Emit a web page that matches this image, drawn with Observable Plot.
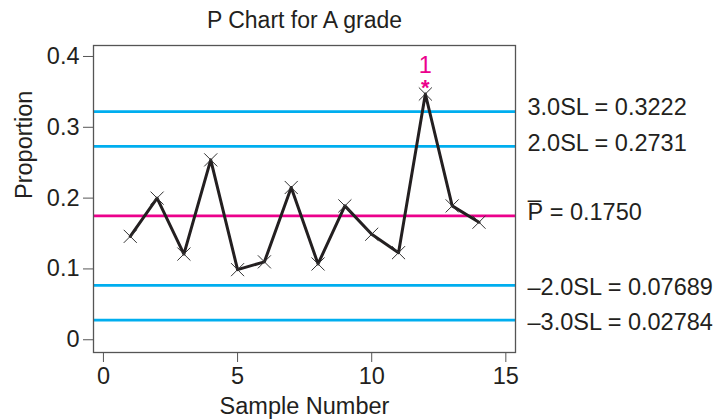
<!DOCTYPE html>
<html>
<head>
<meta charset="utf-8">
<script src="https://cdn.jsdelivr.net/npm/d3@7"></script>
<script src="https://cdn.jsdelivr.net/npm/@observablehq/plot@0.6"></script>
<style>
  body { margin: 0; background: #fff; }
  svg text { font-family: "Liberation Sans", Arial, Helvetica, sans-serif; }
</style>
</head>
<body>
<div id="chart"></div>
<script>
const samples = [1, 2, 3, 4, 5, 6, 7, 8, 9, 10, 11, 12, 13, 14];
const proportions = [0.146, 0.200, 0.121, 0.254, 0.099, 0.110, 0.215, 0.107, 0.189, 0.149, 0.123, 0.347, 0.189, 0.166];
const limitValues = [0.3222, 0.2731, 0.1750, 0.07689, 0.02784];
const limitLabels = ["3.0SL = 0.3222", "2.0SL = 0.2731", "P\u0305 = 0.1750", "\u20132.0SL = 0.07689", "\u20133.0SL = 0.02784"];
const limitKinds = ["limit", "limit", "center", "limit", "limit"];
const labelShift = [-4, -3, -3, 2, 2];
const xTicks = [0, 5, 10, 15];
const yTicks = [0, 0.1, 0.2, 0.3, 0.4];
const flaggedSample = 12;
const flaggedTest = "1";

const points = samples.map((s, i) => ({x: s, y: proportions[i]}));
const limits = limitValues.map((v, i) => ({y: v, label: limitLabels[i], kind: limitKinds[i], shift: labelShift[i]}));
const flagged = points.filter(d => d.x === flaggedSample);

const cyan = "#00aeef";
const magenta = "#ec008c";
const font = "Liberation Sans, Arial, Helvetica, sans-serif";
const fs = 23.5;

const chart = Plot.plot({
  width: 716,
  height: 420,
  marginLeft: 93,
  marginRight: 201,
  marginTop: 45,
  marginBottom: 68,
  style: {fontFamily: font, fontSize: fs + "px", color: "#231f20", background: "#fff"},
  x: {domain: [-0.37, 15.36]},
  y: {domain: [-0.018, 0.4155]},
  marks: [
    Plot.ruleY(limits, {y: "y", stroke: d => d.kind === "center" ? magenta : cyan, strokeWidth: 2.8}),
    Plot.line(points, {x: "x", y: "y", stroke: "#231f20", strokeWidth: 3}),
    Plot.dot(points, {x: "x", y: "y", symbol: "times", r: 6, stroke: "#333", strokeWidth: 1}),
    Plot.text(flagged, {x: "x", y: "y", text: () => "*", dy: -6, fill: magenta, fontSize: 22, fontWeight: "bold", fontFamily: font}),
    Plot.text(flagged, {x: "x", y: "y", text: () => flaggedTest, dy: -29, fill: magenta, fontSize: fs, fontFamily: font}),
    Plot.frame({stroke: "#555", strokeWidth: 1.3}),
    Plot.axisX({ticks: xTicks, tickSize: 10, tickPadding: 5, label: null, stroke: "#555", fontSize: fs, fontFamily: font}),
    Plot.axisY({ticks: yTicks, tickSize: 10, tickPadding: 4, label: null, tickFormat: d => String(d), stroke: "#555", fontSize: fs, fontFamily: font}),
    ...limits.map(l => Plot.text([l], {frameAnchor: "right", y: "y", text: "label", textAnchor: "start", dx: 12, dy: l.shift, fontSize: fs, fill: "#231f20", fontFamily: font})),
    Plot.text(["Sample Number"], {frameAnchor: "bottom", lineAnchor: "middle", text: d => d, dy: 54, fontSize: fs, fill: "#231f20", fontFamily: font}),
    Plot.text(["Proportion"], {frameAnchor: "left", text: d => d, dx: -69, rotate: -90, fontSize: fs, fill: "#231f20", fontFamily: font}),
    Plot.text(["P Chart for A grade"], {frameAnchor: "top", lineAnchor: "middle", text: d => d, dy: -25, fontSize: 23, fill: "#231f20", fontFamily: font})
  ]
});
document.getElementById("chart").appendChild(chart);
</script>
</body>
</html>
